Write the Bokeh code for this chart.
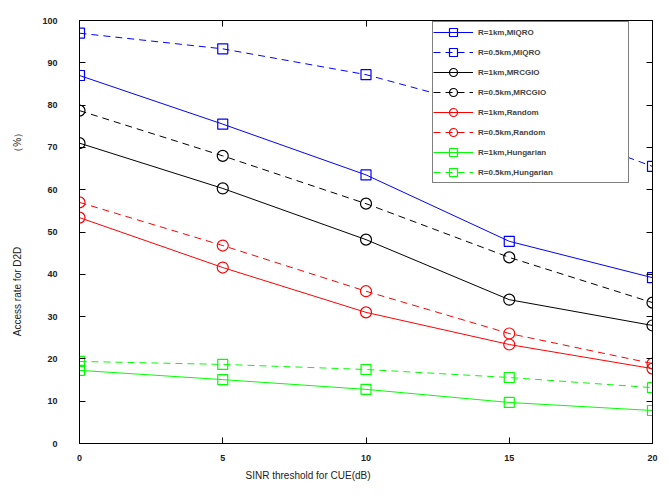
from bokeh.plotting import figure
from bokeh.models import Range1d, LinearAxis, Legend, LegendItem, Title, FixedTicker
from bokeh.embed import file_html
from bokeh.resources import INLINE

x = [0, 5, 10, 15, 20]
miqro_1km = [87.0, 75.5, 63.5, 47.8, 39.2]
miqro_05km = [97.0, 93.3, 87.2, 78.0, 65.5]
mrcgio_1km = [71.0, 60.3, 48.2, 34.0, 27.9]
mrcgio_05km = [78.7, 68.0, 56.7, 44.0, 33.3]
random_1km = [53.4, 41.6, 31.0, 23.4, 17.7]
random_05km = [57.0, 46.8, 36.0, 26.0, 18.9]
hung_1km = [17.3, 15.1, 12.8, 9.7, 7.8]
hung_05km = [19.4, 18.7, 17.5, 15.6, 13.2]
x_ticks = [0, 5, 10, 15, 20]
y_ticks = list(range(0, 101, 10))

series = [
    ("R=1km,MIQRO", miqro_1km, "#0000ff", "solid", "square"),
    ("R=0.5km,MIQRO", miqro_05km, "#0000ff", "dashed", "square"),
    ("R=1km,MRCGIO", mrcgio_1km, "#000000", "solid", "circle"),
    ("R=0.5km,MRCGIO", mrcgio_05km, "#000000", "dashed", "circle"),
    ("R=1km,Random", random_1km, "#ff0000", "solid", "circle"),
    ("R=0.5km,Random", random_05km, "#ff0000", "dashed", "circle"),
    ("R=1km,Hungarian", hung_1km, "#00ff00", "solid", "square"),
    ("R=0.5km,Hungarian", hung_05km, "#00ff00", "dashed", "square"),
]

FONT = "Liberation Sans"
EM = "\u2003"

p = figure(width=665, height=499, output_backend="svg", toolbar_location=None,
           x_range=Range1d(0, 20), y_range=Range1d(0, 100),
           min_border_left=79, min_border_right=13, min_border_top=20, min_border_bottom=56)
p.background_fill_color = "white"
p.border_fill_color = "white"
p.outline_line_color = "black"
p.outline_line_width = 1
p.xgrid.visible = False
p.ygrid.visible = False

for ax in (p.xaxis[0], p.yaxis[0]):
    ax.major_tick_in = 6
    ax.major_tick_out = 0
    ax.minor_tick_in = 0
    ax.minor_tick_out = 0
    ax.axis_line_color = "black"
    ax.major_label_text_font = FONT
    ax.major_label_text_font_size = "9px"
    ax.major_label_text_color = "#222222"
    ax.major_label_text_font_style = "bold"

p.xaxis.ticker = FixedTicker(ticks=x_ticks)
p.yaxis.ticker = FixedTicker(ticks=y_ticks)
p.xaxis.major_label_standoff = 11
p.yaxis.major_label_standoff = 22
p.yaxis.major_label_text_baseline = "bottom"

p.yaxis.axis_label = "Access rate for D2D" + EM * 9 + "（%）"
p.yaxis.axis_label_text_font = FONT
p.yaxis.axis_label_text_font_size = "10px"
p.yaxis.axis_label_text_font_style = "normal"
p.yaxis.axis_label_text_color = "#222222"
p.yaxis.axis_label_standoff = 16

for side, ticks in (("right", y_ticks), ("above", x_ticks)):
    ax = LinearAxis(ticker=FixedTicker(ticks=ticks), major_tick_in=6, major_tick_out=0,
                    minor_tick_in=0, minor_tick_out=0, major_label_text_font_size="0px",
                    axis_line_color="black")
    p.add_layout(ax, side)

p.add_layout(Title(text="SINR threshold for CUE(dB)", align="left", offset=166,
                   text_font=FONT, text_font_size="10px", text_font_style="normal",
                   text_color="#222222", standoff=8), "below")

items = []
for name, ys, color, dash, marker in series:
    r1 = p.line(x, ys, line_color=color, line_width=1, line_dash=dash if dash == "solid" else "7 5")
    if marker == "square":
        r2 = p.scatter(x, ys, marker="square", size=10, fill_color=None, line_color=color, line_width=1.2)
    else:
        r2 = p.scatter(x, ys, marker="circle", size=11, fill_color=None, line_color=color, line_width=1.2)
    items.append(LegendItem(label=name, renderers=[r1, r2]))

legend = Legend(items=items, location=(353, 260), glyph_width=40, glyph_height=20, spacing=0,
                label_text_font=FONT, label_text_font_size="8px", label_text_font_style="bold",
                label_height=14, label_text_baseline="middle",
                border_line_color="black", border_line_width=1, background_fill_alpha=1,
                padding=0, margin=0, label_standoff=5, label_width=150)
p.add_layout(legend)

open("out.html", "w").write(file_html(p, INLINE))
